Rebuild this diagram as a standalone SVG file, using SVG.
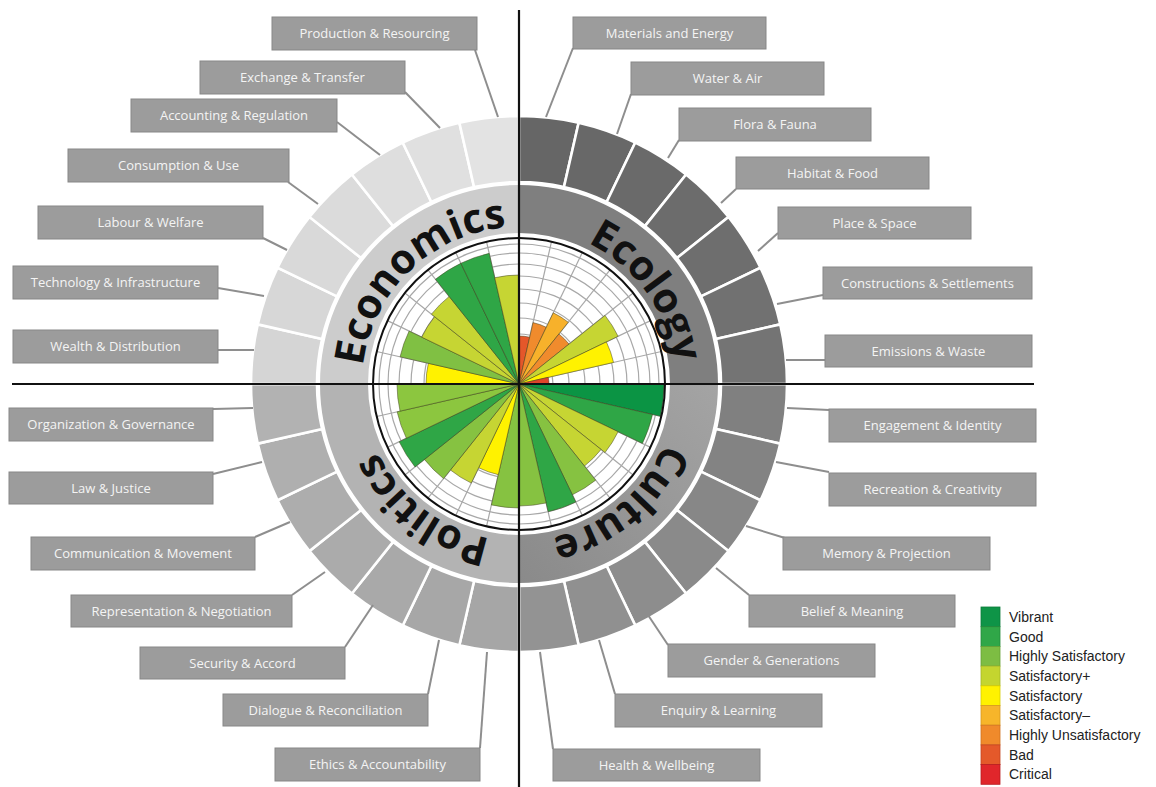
<svg xmlns="http://www.w3.org/2000/svg" xmlns:xlink="http://www.w3.org/1999/xlink" width="1156" height="787" viewBox="0 0 1156 787">
<style>
.box{fill:#9c9c9c;stroke:#878787;stroke-width:1}
.lbl{font-family:"Open Sans","Liberation Sans",sans-serif;font-size:13px;fill:#f4f4f4;text-anchor:middle}
.con{stroke:#8e8e8e;stroke-width:2;fill:none}
.seg{stroke:#ffffff;stroke-width:2.6}
.bar{stroke:#3f3f1c;stroke-opacity:0.55;stroke-width:0.9;vector-effect:non-scaling-stroke}
.grid{stroke:#a8a8a8;stroke-width:1.2;fill:none}
.title{font-family:"Open Sans","Liberation Sans",sans-serif;font-weight:700;font-size:41px;fill:#111}
.leg{font-family:"Liberation Sans",Arial,sans-serif;font-size:14px;fill:#222}
.axis{stroke:#111;stroke-width:2.2}
</style>
<defs>
<path id="wedge" class="bar" d="M0 0 L1 0 A1 1 0 0 1 0.974928 0.222521 Z"/>
<path id="seg" d="M202 0 L268 0 A268 268 0 0 1 261.281 59.636 L196.935 44.949 A202 202 0 0 0 202 0 Z"/>
<line id="rl" x1="0" y1="0" x2="146" y2="0"/>
<path id="pEco" d="M366.66 421.98 A157 157 0 0 1 562.28 233.08"/>
<path id="pEcl" d="M502.59 227.86 A157 157 0 0 1 662.43 447.86"/>
<path id="pCul" d="M673.62 356.74 A157 157 0 0 1 465.30 531.53"/>
<path id="pPol" d="M579.08 529.05 A157 157 0 0 1 363.34 363.51"/>
<linearGradient id="gCul" x1="1" y1="0" x2="0" y2="1">
<stop offset="0" stop-color="#a4a4a4"/><stop offset="1" stop-color="#8a8a8a"/>
</linearGradient>
</defs>
<rect width="1156" height="787" fill="#ffffff"/>

<g id="outer-ring" transform="translate(519 384)">
<use href="#seg" class="seg" fill="#808080" transform="rotate(0)"/>
<use href="#seg" class="seg" fill="#838383" transform="rotate(12.857)"/>
<use href="#seg" class="seg" fill="#878787" transform="rotate(25.714)"/>
<use href="#seg" class="seg" fill="#8a8a8a" transform="rotate(38.571)"/>
<use href="#seg" class="seg" fill="#8d8d8d" transform="rotate(51.429)"/>
<use href="#seg" class="seg" fill="#909090" transform="rotate(64.286)"/>
<use href="#seg" class="seg" fill="#939393" transform="rotate(77.143)"/>
<use href="#seg" class="seg" fill="#a6a6a6" transform="rotate(90)"/>
<use href="#seg" class="seg" fill="#a7a7a7" transform="rotate(102.857)"/>
<use href="#seg" class="seg" fill="#a9a9a9" transform="rotate(115.714)"/>
<use href="#seg" class="seg" fill="#ababab" transform="rotate(128.571)"/>
<use href="#seg" class="seg" fill="#adadad" transform="rotate(141.429)"/>
<use href="#seg" class="seg" fill="#afafaf" transform="rotate(154.286)"/>
<use href="#seg" class="seg" fill="#b2b2b2" transform="rotate(167.143)"/>
<use href="#seg" class="seg" fill="#d5d5d5" transform="rotate(180)"/>
<use href="#seg" class="seg" fill="#d7d7d7" transform="rotate(192.857)"/>
<use href="#seg" class="seg" fill="#d9d9d9" transform="rotate(205.714)"/>
<use href="#seg" class="seg" fill="#dbdbdb" transform="rotate(218.571)"/>
<use href="#seg" class="seg" fill="#dedede" transform="rotate(231.429)"/>
<use href="#seg" class="seg" fill="#e0e0e0" transform="rotate(244.286)"/>
<use href="#seg" class="seg" fill="#e3e3e3" transform="rotate(257.143)"/>
<use href="#seg" class="seg" fill="#666666" transform="rotate(270)"/>
<use href="#seg" class="seg" fill="#686868" transform="rotate(282.857)"/>
<use href="#seg" class="seg" fill="#6a6a6a" transform="rotate(295.714)"/>
<use href="#seg" class="seg" fill="#6c6c6c" transform="rotate(308.571)"/>
<use href="#seg" class="seg" fill="#6e6e6e" transform="rotate(321.429)"/>
<use href="#seg" class="seg" fill="#717171" transform="rotate(334.286)"/>
<use href="#seg" class="seg" fill="#747474" transform="rotate(347.143)"/>
</g>

<g id="band-economics"><path fill="#cccccc" d="M320 384 A199 199 0 0 1 519 185 L519 233 A151 151 0 0 0 368 384 Z"/></g>
<g id="band-ecology"><path fill="#7f7f7f" d="M519 185 A199 199 0 0 1 718 384 L670 384 A151 151 0 0 0 519 233 Z"/></g>
<g id="band-culture"><path fill="url(#gCul)" d="M718 384 A199 199 0 0 1 519 583 L519 535 A151 151 0 0 0 670 384 Z"/></g>
<g id="band-politics"><path fill="#b3b3b3" d="M519 583 A199 199 0 0 1 320 384 L368 384 A151 151 0 0 0 519 535 Z"/></g>

<g id="chart" transform="translate(519 384)">
<circle r="150" fill="#ffffff"/>
<g class="grid">
<circle r="17"/><circle r="34"/><circle r="50"/><circle r="66"/><circle r="81"/><circle r="95"/><circle r="108"/><circle r="120"/><circle r="131"/><circle r="140"/>
<use href="#rl" transform="rotate(12.857)"/><use href="#rl" transform="rotate(25.714)"/><use href="#rl" transform="rotate(38.571)"/><use href="#rl" transform="rotate(51.429)"/><use href="#rl" transform="rotate(64.286)"/><use href="#rl" transform="rotate(77.143)"/>
<use href="#rl" transform="rotate(102.857)"/><use href="#rl" transform="rotate(115.714)"/><use href="#rl" transform="rotate(128.571)"/><use href="#rl" transform="rotate(141.429)"/><use href="#rl" transform="rotate(154.286)"/><use href="#rl" transform="rotate(167.143)"/>
<use href="#rl" transform="rotate(192.857)"/><use href="#rl" transform="rotate(205.714)"/><use href="#rl" transform="rotate(218.571)"/><use href="#rl" transform="rotate(231.429)"/><use href="#rl" transform="rotate(244.286)"/><use href="#rl" transform="rotate(257.143)"/>
<use href="#rl" transform="rotate(282.857)"/><use href="#rl" transform="rotate(295.714)"/><use href="#rl" transform="rotate(308.571)"/><use href="#rl" transform="rotate(321.429)"/><use href="#rl" transform="rotate(334.286)"/><use href="#rl" transform="rotate(347.143)"/>
</g>
<g id="bars">
<use href="#wedge" fill="#0b9444" transform="rotate(0) scale(145)"/>
<use href="#wedge" fill="#2fa646" transform="rotate(12.857) scale(137)"/>
<use href="#wedge" fill="#c6d533" transform="rotate(25.714) scale(110)"/>
<use href="#wedge" fill="#c6d533" transform="rotate(38.571) scale(105)"/>
<use href="#wedge" fill="#86c241" transform="rotate(51.429) scale(123)"/>
<use href="#wedge" fill="#2fa646" transform="rotate(64.286) scale(131)"/>
<use href="#wedge" fill="#86c241" transform="rotate(77.143) scale(122)"/>
<use href="#wedge" fill="#86c241" transform="rotate(90) scale(124)"/>
<use href="#wedge" fill="#fff200" transform="rotate(102.857) scale(93)"/>
<use href="#wedge" fill="#c6d533" transform="rotate(115.714) scale(110)"/>
<use href="#wedge" fill="#86c241" transform="rotate(128.571) scale(121)"/>
<use href="#wedge" fill="#2fa646" transform="rotate(141.429) scale(133)"/>
<use href="#wedge" fill="#8cc63f" transform="rotate(154.286) scale(125)"/>
<use href="#wedge" fill="#8cc63f" transform="rotate(167.143) scale(122)"/>
<use href="#wedge" fill="#fff200" transform="rotate(180) scale(93)"/>
<use href="#wedge" fill="#80c043" transform="rotate(192.857) scale(122)"/>
<use href="#wedge" fill="#c6d533" transform="rotate(205.714) scale(108)"/>
<use href="#wedge" fill="#c6d533" transform="rotate(218.571) scale(112)"/>
<use href="#wedge" fill="#2fa646" transform="rotate(231.429) scale(134)"/>
<use href="#wedge" fill="#2fa646" transform="rotate(244.286) scale(134)"/>
<use href="#wedge" fill="#c6d533" transform="rotate(257.143) scale(109)"/>
<use href="#wedge" fill="#e5572a" transform="rotate(270) scale(48)"/>
<use href="#wedge" fill="#f08b2d" transform="rotate(282.857) scale(63)"/>
<use href="#wedge" fill="#f7b12b" transform="rotate(295.714) scale(79)"/>
<use href="#wedge" fill="#f08b2d" transform="rotate(308.571) scale(64)"/>
<use href="#wedge" fill="#c6d533" transform="rotate(321.429) scale(110)"/>
<use href="#wedge" fill="#fff200" transform="rotate(334.286) scale(97)"/>
<use href="#wedge" fill="#e0452a" transform="rotate(347.143) scale(30)"/>
</g>
<circle r="146" fill="none" stroke="#111" stroke-width="2"/>
</g>

<g id="titles">
<text class="title"><textPath href="#pEco" startOffset="50%" text-anchor="middle">Economics</textPath></text>
<text class="title"><textPath href="#pEcl" startOffset="50%" text-anchor="middle">Ecology</textPath></text>
<text class="title"><textPath href="#pCul" startOffset="50%" text-anchor="middle">Culture</textPath></text>
<text class="title"><textPath href="#pPol" startOffset="50%" text-anchor="middle">Politics</textPath></text>
</g>

<g id="axes">
<line class="axis" x1="519" y1="10" x2="519" y2="787"/>
<line class="axis" x1="12" y1="384" x2="1034" y2="384"/>
</g>

<g id="connectors" class="con">
<line x1="475" y1="50" x2="498" y2="117"/>
<line x1="405" y1="92" x2="440" y2="128"/>
<line x1="337" y1="122" x2="380" y2="155"/>
<line x1="288" y1="182" x2="318" y2="204"/>
<line x1="263" y1="238" x2="287" y2="250"/>
<line x1="218" y1="288" x2="264" y2="296"/>
<line x1="218" y1="350" x2="254" y2="350"/>
<line x1="573" y1="48" x2="546" y2="117"/>
<line x1="631" y1="94" x2="617" y2="134"/>
<line x1="679" y1="140" x2="668" y2="158"/>
<line x1="736" y1="189" x2="721" y2="203"/>
<line x1="778" y1="233" x2="758" y2="251"/>
<line x1="823" y1="295" x2="777" y2="304"/>
<line x1="825" y1="360" x2="786" y2="360"/>
<line x1="829" y1="410" x2="787" y2="408"/>
<line x1="829" y1="472" x2="776" y2="462"/>
<line x1="785" y1="538" x2="746" y2="526"/>
<line x1="749" y1="595" x2="716" y2="568"/>
<line x1="668" y1="645" x2="648" y2="615"/>
<line x1="615" y1="694" x2="599" y2="640"/>
<line x1="553" y1="749" x2="540" y2="652"/>
<line x1="213" y1="409" x2="253" y2="408"/>
<line x1="213" y1="474" x2="262" y2="462"/>
<line x1="255" y1="537" x2="290" y2="522"/>
<line x1="292" y1="595" x2="325" y2="572"/>
<line x1="345" y1="647" x2="373" y2="605"/>
<line x1="428" y1="694" x2="439" y2="640"/>
<line x1="480" y1="748" x2="487" y2="652"/>
</g>

<g id="n-production"><rect class="box" x="272" y="17" width="205" height="33"/><text class="lbl" x="374.5" y="38">Production &amp; Resourcing</text></g>
<g id="n-exchange"><rect class="box" x="200" y="61" width="205" height="33"/><text class="lbl" x="302.5" y="82">Exchange &amp; Transfer</text></g>
<g id="n-accounting"><rect class="box" x="131" y="99" width="206" height="33"/><text class="lbl" x="234" y="120">Accounting &amp; Regulation</text></g>
<g id="n-consumption"><rect class="box" x="68" y="149" width="221" height="33"/><text class="lbl" x="178.5" y="170">Consumption &amp; Use</text></g>
<g id="n-labour"><rect class="box" x="38" y="206" width="225" height="33"/><text class="lbl" x="150.5" y="227">Labour &amp; Welfare</text></g>
<g id="n-technology"><rect class="box" x="13" y="266" width="205" height="33"/><text class="lbl" x="115.5" y="287">Technology &amp; Infrastructure</text></g>
<g id="n-wealth"><rect class="box" x="13" y="330" width="205" height="33"/><text class="lbl" x="115.5" y="351">Wealth &amp; Distribution</text></g>

<g id="n-materials"><rect class="box" x="573" y="17" width="193" height="32"/><text class="lbl" x="669.5" y="37.5">Materials and Energy</text></g>
<g id="n-water"><rect class="box" x="631" y="62" width="193" height="33"/><text class="lbl" x="727.5" y="83">Water &amp; Air</text></g>
<g id="n-flora"><rect class="box" x="679" y="108" width="192" height="33"/><text class="lbl" x="775" y="129">Flora &amp; Fauna</text></g>
<g id="n-habitat"><rect class="box" x="736" y="157" width="193" height="32"/><text class="lbl" x="832.5" y="177.5">Habitat &amp; Food</text></g>
<g id="n-place"><rect class="box" x="778" y="207" width="193" height="32"/><text class="lbl" x="874.5" y="227.5">Place &amp; Space</text></g>
<g id="n-constructions"><rect class="box" x="823" y="267" width="209" height="32"/><text class="lbl" x="927.5" y="287.5">Constructions &amp; Settlements</text></g>
<g id="n-emissions"><rect class="box" x="825" y="335" width="207" height="32"/><text class="lbl" x="928.5" y="355.5">Emissions &amp; Waste</text></g>

<g id="n-engagement"><rect class="box" x="829" y="409" width="207" height="33"/><text class="lbl" x="932.5" y="430">Engagement &amp; Identity</text></g>
<g id="n-recreation"><rect class="box" x="829" y="473" width="207" height="33"/><text class="lbl" x="932.5" y="494">Recreation &amp; Creativity</text></g>
<g id="n-memory"><rect class="box" x="783" y="537" width="207" height="33"/><text class="lbl" x="886.5" y="558">Memory &amp; Projection</text></g>
<g id="n-belief"><rect class="box" x="749" y="595" width="206" height="32"/><text class="lbl" x="852" y="615.5">Belief &amp; Meaning</text></g>
<g id="n-gender"><rect class="box" x="668" y="644" width="207" height="33"/><text class="lbl" x="771.5" y="665">Gender &amp; Generations</text></g>
<g id="n-enquiry"><rect class="box" x="615" y="694" width="207" height="33"/><text class="lbl" x="718.5" y="715">Enquiry &amp; Learning</text></g>
<g id="n-health"><rect class="box" x="553" y="749" width="207" height="32"/><text class="lbl" x="656.5" y="769.5">Health &amp; Wellbeing</text></g>

<g id="n-organization"><rect class="box" x="9" y="408" width="204" height="33"/><text class="lbl" x="111" y="429">Organization &amp; Governance</text></g>
<g id="n-law"><rect class="box" x="9" y="472" width="204" height="32"/><text class="lbl" x="111" y="492.5">Law &amp; Justice</text></g>
<g id="n-communication"><rect class="box" x="31" y="537" width="224" height="33"/><text class="lbl" x="143" y="558">Communication &amp; Movement</text></g>
<g id="n-representation"><rect class="box" x="71" y="595" width="221" height="32"/><text class="lbl" x="181.5" y="615.5">Representation &amp; Negotiation</text></g>
<g id="n-security"><rect class="box" x="140" y="647" width="205" height="32"/><text class="lbl" x="242.5" y="667.5">Security &amp; Accord</text></g>
<g id="n-dialogue"><rect class="box" x="223" y="694" width="205" height="32"/><text class="lbl" x="325.5" y="714.5">Dialogue &amp; Reconciliation</text></g>
<g id="n-ethics"><rect class="box" x="275" y="748" width="205" height="33"/><text class="lbl" x="377.5" y="769">Ethics &amp; Accountability</text></g>

<g id="legend">
<rect x="981" y="607" width="19" height="19.7" fill="#0e9447" stroke="#0a7a3a" stroke-width="0.8"/>
<rect x="981" y="626.7" width="19" height="19.7" fill="#30a748" stroke="#238a3a" stroke-width="0.8"/>
<rect x="981" y="646.4" width="19" height="19.7" fill="#7dbd43" stroke="#64a035" stroke-width="0.8"/>
<rect x="981" y="666.1" width="19" height="19.7" fill="#c4d52f" stroke="#a6b626" stroke-width="0.8"/>
<rect x="981" y="685.8" width="19" height="19.7" fill="#fff200" stroke="#d8cc00" stroke-width="0.8"/>
<rect x="981" y="705.5" width="19" height="19.7" fill="#f7b52a" stroke="#d89a20" stroke-width="0.8"/>
<rect x="981" y="725.2" width="19" height="19.7" fill="#f08a2b" stroke="#d07220" stroke-width="0.8"/>
<rect x="981" y="744.9" width="19" height="19.7" fill="#e4592a" stroke="#c44520" stroke-width="0.8"/>
<rect x="981" y="764.6" width="19" height="19.7" fill="#e0262b" stroke="#b81c20" stroke-width="0.8"/>
<text class="leg" x="1009" y="622">Vibrant</text>
<text class="leg" x="1009" y="641.5">Good</text>
<text class="leg" x="1009" y="661.2">Highly Satisfactory</text>
<text class="leg" x="1009" y="680.9">Satisfactory+</text>
<text class="leg" x="1009" y="700.6">Satisfactory</text>
<text class="leg" x="1009" y="720.3">Satisfactory–</text>
<text class="leg" x="1009" y="740">Highly Unsatisfactory</text>
<text class="leg" x="1009" y="759.7">Bad</text>
<text class="leg" x="1009" y="779.4">Critical</text>
</g>
</svg>
